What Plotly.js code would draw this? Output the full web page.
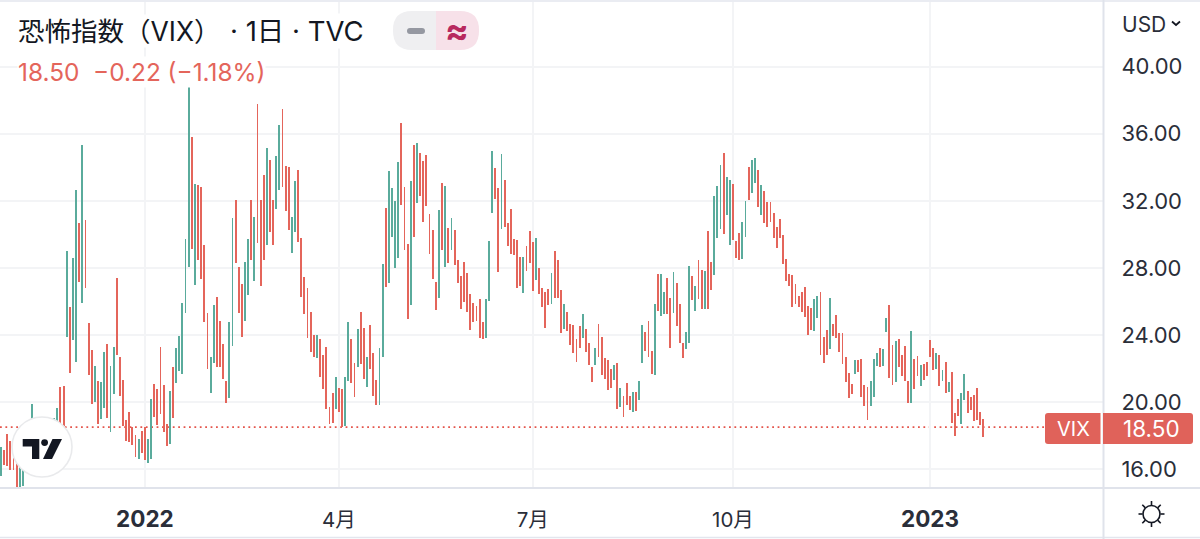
<!DOCTYPE html>
<html><head><meta charset="utf-8">
<script src="https://cdn.plot.ly/plotly-3.0.1.min.js"></script>
<style>html,body{margin:0;padding:0;background:#fff;overflow:hidden}#c{width:1200px;height:539px}</style>
</head><body><div id="c"></div>
<script>
const highs = [17.3,17.15,18.07,17.67,16.66,16.4,16.12,16,17.9,18.6,
19.88,18.9,18.9,19,18.9,18.9,19,19.02,19.62,20.9,
20.98,29,25.67,28.6,32.62,30.69,35.3,30.85,24.72,23.1,
22.15,21.27,21.17,23,23.48,22.13,23.28,27.4,22.69,21.33,
18.9,19.4,18.5,18.03,17.8,18.29,18.53,17.77,20.16,21.07,
20.76,23.3,21,18.69,20.64,22.07,23.2,23.96,25.89,29.75,
39.05,35.8,33.01,32.95,32.81,29.35,25.29,22.71,25.77,26.25,
24.8,23.44,21.25,24.76,30.98,32.02,28.08,27.04,28.36,29.71,
32.02,31.02,37.75,32.02,33.51,35.16,34.41,32.02,34.65,36.52,
37.47,34.09,34.01,31.06,33.19,33.85,29.81,27.44,26.79,25.35,
24,24,23.78,22.83,23.3,19.7,20.52,21.47,20.82,20.76,
21.51,24.76,23.78,22.31,24.38,25.35,24.42,22.67,24.58,22.91,
21.31,23.22,28.24,31.58,33.77,32.76,32,34.31,36.64,32.82,
29.41,33.19,35.34,35.44,34.85,34.37,34.75,31.2,30.25,27.16,
31.46,33.07,32.9,30.37,31,30.23,28.44,27.54,28.34,27.7,
26.45,25.91,25.73,26.17,24.74,26.17,29.61,34.98,33.97,32.74,
34.79,33.27,30.65,31.54,29.73,29.69,28.62,28.66,29.29,30.17,
29.57,29.79,28.02,26.77,26.57,26.73,27.7,29.03,28.44,26.67,
25.87,25.39,24.68,24.62,23.76,24.52,25.27,24.36,23.5,22.11,
23.24,24.64,23.88,22.65,22.53,21.99,22.21,22.33,20.82,20.34,
21.13,20.34,20.6,20.6,21.25,24.58,24.2,24.84,23.06,25.87,
27.64,27.64,26.55,27.42,26.23,27.74,27.1,25.87,23.54,24.2,
28.12,27.52,26.9,28.44,27.9,27.8,30.17,28.34,32.28,32.86,
34.13,34.83,33.43,33.23,33.03,29.59,30.05,30.71,32,33.99,
34.43,34.53,33.83,32.97,32.58,31.9,31.9,31.3,30.43,30.93,
29.95,28.5,27.64,27.6,27.04,26.31,26.57,26.85,25.71,25.63,
26.13,26.31,26.57,23.88,24.32,26.19,24.68,25.17,24.1,24.1,
22.69,21.73,21.09,22.49,22.53,22.57,21.01,20.92,21.23,22.57,
22.95,23.22,23.16,25,25.79,23.42,23.64,23.76,22.79,23.32,
21.23,24.24,22.59,22.73,22.21,22.27,22.37,23.7,23.22,22.91,
22.83,21.93,22.41,21.19,21.77,19.34,20.16,20.52,21.65,20.64,
20.28,20.42,20.86,19.4,18.98];
const lows = [15.56,16.26,16.16,15.96,15.96,14.9,14.9,14.97,16.6,17.2,
18.75,17.8,17.5,18,17.9,18,18.3,18.55,18.75,18.55,
18.55,23.9,21.73,23.72,22.39,27.16,25.9,26.79,21.63,19.86,
19.98,18.67,18.98,19.64,19.04,18.19,20.5,22.83,20.38,18.55,
17.65,17.6,17.45,16.72,16.6,16.97,16.54,16.34,16.58,19.08,
18.63,19.28,18.23,17.37,17.49,19.02,21.15,21.87,21.67,25.33,
28.08,29.15,26.97,28.44,27.32,24.74,21.95,20.52,22.31,22.11,
22.07,21.35,19.96,20.22,23.34,28.28,25.33,23.86,24.8,26.39,
28.44,27.2,29.47,26.93,28.44,29.39,30.15,29.35,31.5,32.66,
32.8,31.4,30.23,28.88,30.11,29.57,26.29,25.27,23.82,23,
22.69,22.65,21.51,20.76,19.56,18.67,18.73,19.56,19.42,18.53,
18.57,21.25,21.15,20.28,22.11,22.27,21.39,20.88,21.99,20.38,
19.8,19.84,22.67,26.83,27.08,29.83,28.02,28.56,31.76,29.07,
24.96,25.79,29.83,31.86,32.26,30.71,31.7,28.82,27.34,25.51,
26.21,29.07,28.04,28.3,29.05,28.16,27.12,25.55,25.95,25.35,
24.32,24.78,24.82,23.84,23.74,23.8,26.05,31.28,32.08,27.76,
30.29,30.45,29.33,28.8,28.74,26.81,26.93,26.49,27.84,28.26,
26.63,27.28,26.43,25.67,24.44,25.79,25.83,26.21,26.21,24.12,
24.38,24.22,23.38,22.93,22.39,23.2,23.8,22.99,22.23,21.21,
22.23,22.67,21.63,21.37,20.74,20.84,21.31,19.56,19.71,19.13,
19.82,19.52,19.4,19.44,20.1,22.35,23.04,22.71,21.69,21.63,
25.45,25.15,25.27,25.25,23.2,25.31,24.56,23.52,22.63,23.16,
23.52,26.11,25.41,26.15,25.55,25.55,25.55,26.69,27.56,29.81,
30.31,30,31.16,29.37,29.65,28.58,28.48,28.54,29.85,32.04,
32.44,33.09,31.64,31.16,30.69,30.41,30.73,29.79,29.21,29.79,
28.2,27.22,26.91,25.67,25.87,25.67,25.39,25.07,24,24.28,
24.24,25.03,22.83,22.35,22.83,23.14,23.96,23.8,22.99,22.29,
21.19,20.24,20.46,21.65,21.81,20.28,19.74,18.95,19.74,20.32,
22.17,22.07,22.17,24.16,21.41,21.03,21.21,22.07,21.57,21.27,
19.92,19.96,20.78,21.57,20.94,21.31,21.55,22.71,21.91,21.95,
20.98,21.23,20.52,20.6,18.73,17.99,19.14,18.69,20.12,19.36,
19.52,18.89,18.93,18.61,17.93];
const tealBars = [0,6,7,10,12,13,16,17,18,21,23,24,26,30,32,33,35,36,44,47,48,54,56,57,58,59,60,62,67,68,73,74,78,79,81,85,88,89,93,94,101,107,110,111,114,117,121,122,124,125,126,127,131,133,140,142,144,155,156,157,160,167,171,176,180,186,190,196,198,202,204,205,209,211,212,215,219,220,222,225,228,229,230,232,233,237,238,240,241,243,260,261,265,273,278,279,280,282,283,286,291,294,299,301,303,307,308];
const xTickBars = [46,108,170,234,297];
const xTickLabels = ['<span style="font-size:22.5px"><b>2022</b></span>','4月','7月','10月','<span style="font-size:22.5px"><b>2023</b></span>'];
const yTicks = [16,20,24,28,32,36,40];
const lastPrice = 18.50;

const TEAL='#5aab9c', RED='#e4655b', TAG='#e0625a', INK='#131722', AXIS='#2a2e39', GRID='#f3f4f6', EDGE='#e0e3eb';
const FONT='Inter, "Noto Sans CJK JP", sans-serif';
const X=p=>p/1103, Y=p=>(488-p)/486;
const teal=new Set(tealBars);
const idx=highs.map((_,i)=>i);
const trace={type:'bar',x:idx,base:lows,y:highs.map((h,i)=>h-lows[i]),width:0.6,
  marker:{color:idx.map(i=>teal.has(i)?TEAL:RED),line:{width:0}},hoverinfo:'skip',showlegend:false};

function pline(x0,y0,x1,y1,c,w){return {type:'line',xref:'paper',yref:'paper',x0:X(x0),y0:Y(y0),x1:X(x1),y1:Y(y1),line:{color:c,width:w},layer:'above'};}
function ppath(pts,fill,stroke,w){
  const d=pts.map(s=>{ if(s[0]==='Z')return 'Z'; let o=s[0]; for(let k=1;k<s.length;k+=2){o+=' '+X(s[k])+' '+Y(s[k+1]);} return o;}).join(' ');
  return {type:'path',xref:'paper',yref:'paper',path:d,fillcolor:fill,line:{color:stroke||'rgba(0,0,0,0)',width:w||0},layer:'above'};}
function rrect(x0,y0,x1,y1,r,fill,rl,rr){
  const a=rl?r:0,b=rr?r:0;
  return ppath([['M',x0+a,y0],['L',x1-b,y0],['Q',x1,y0,x1,y0+b],['L',x1,y1-b],['Q',x1,y1,x1-b,y1],['L',x0+a,y1],['Q',x0,y1,x0,y1-a],['L',x0,y0+a],['Q',x0,y0,x0+a,y0],['Z']],fill);}
function circle(cx,cy,r,fill,stroke,w){return {type:'circle',xref:'paper',yref:'paper',x0:X(cx-r),x1:X(cx+r),y0:Y(cy+r),y1:Y(cy-r),fillcolor:fill,line:{color:stroke||'rgba(0,0,0,0)',width:w||0},layer:'above'};}

const sun=[];const SX=1151.5,SY=514;
sun.push(circle(SX,SY,8.5,'rgba(0,0,0,0)',INK,1.6));
[[0,-1],[0,1],[1,0],[-1,0],[.707,.707],[-.707,.707],[.707,-.707],[-.707,-.707]].forEach(d=>{
  sun.push(pline(SX+d[0]*9,SY+d[1]*9,SX+d[0]*13,SY+d[1]*13,INK,1.6));
});

const shapes=[
  {type:'line',xref:'paper',yref:'y',x0:0,x1:X(1045),y0:lastPrice,y1:lastPrice,line:{color:'#e4554c',width:1.8,dash:'1.8px,3.6px'},layer:'between'},
  pline(0,1,1200,1,'#e3e6ee',1.5),
  pline(0,537.5,1200,537.5,'#e3e6ee',1.5),
  pline(0,488,1200,488,EDGE,2),
  pline(1103.5,0,1103.5,539,EDGE,2),
  circle(42,447,30,'#ffffff','#e9eaec',1.6),
  ppath([['M',22.7,439],['L',39.3,439],['L',39.3,459],['L',32,459],['L',32,446.5],['L',22.7,446.5],['Z']],INK),
  circle(44.6,442.6,3.4,INK),
  ppath([['M',52.5,439],['L',62,439],['L',52,459],['L',43,459],['Z']],INK),
  rrect(393,11,436,50,19,'#efeff1',true,false),
  rrect(436,11,479,50,19,'#f7e1e9',false,true),
  rrect(407,28,425,34,3,'#9598a1',true,true),
  rrect(1045,413,1100.5,444,3,TAG,true,false),
  rrect(1103,413,1193,444,3,TAG,false,true),
  ppath([['M',1172,21.5],['L',1176,25],['L',1180,21.5]],'rgba(0,0,0,0)',INK,1.8),
].concat(sun);

function note(px,py,text,size,color,anchor,extra){return Object.assign({xref:'paper',yref:'paper',x:X(px),y:Y(py),text,showarrow:false,xanchor:anchor||'left',yanchor:'middle',
  font:{family:FONT,size,color},borderpad:0},extra||{});}
const annotations=[
  note(17,31,'恐怖指数（VIX）',26.5,INK,'left',{bgcolor:'#ffffff'}),
  note(229,31,'· 1日 · TVC',27.5,INK,'left',{bgcolor:'#ffffff'}),
  note(17,72,'18.50\u00a0\u00a0−0.22 (−1.18%)',24.4,'#e4655b','left',{bgcolor:'#ffffff'}),
  note(456.5,30,'<b>≈</b>',35,'#b8295e','center'),
  note(1073,428.5,'VIX',20,'#ffffff','center'),
  note(1151.5,428.5,'18.50',22.5,'#ffffff','center'),
  note(1121,24,'USD',21,AXIS,'left'),
];

const layout={width:1200,height:539,margin:{l:0,r:97,t:2,b:51,pad:0},paper_bgcolor:'#fff',plot_bgcolor:'#fff',showlegend:false,
  bargap:0,
  xaxis:{range:[-0.32,352.3],tickmode:'array',tickvals:xTickBars,ticktext:xTickLabels,showgrid:true,gridcolor:GRID,gridwidth:2,zeroline:false,showline:false,
    ticks:'outside',ticklen:13,tickcolor:'rgba(0,0,0,0)',tickfont:{family:FONT,size:20.5,color:AXIS},tickangle:0,fixedrange:true},
  yaxis:{side:'right',range:[14.866,43.86],tickmode:'array',tickvals:yTicks,tickformat:'.2f',showgrid:true,gridcolor:GRID,gridwidth:2,zeroline:false,showline:false,
    ticks:'outside',ticklen:13,tickcolor:'rgba(0,0,0,0)',tickfont:{family:FONT,size:22,color:AXIS},fixedrange:true},
  shapes,annotations};
Plotly.newPlot('c',[trace],layout,{displayModeBar:false,staticPlot:true});
</script></body></html>
